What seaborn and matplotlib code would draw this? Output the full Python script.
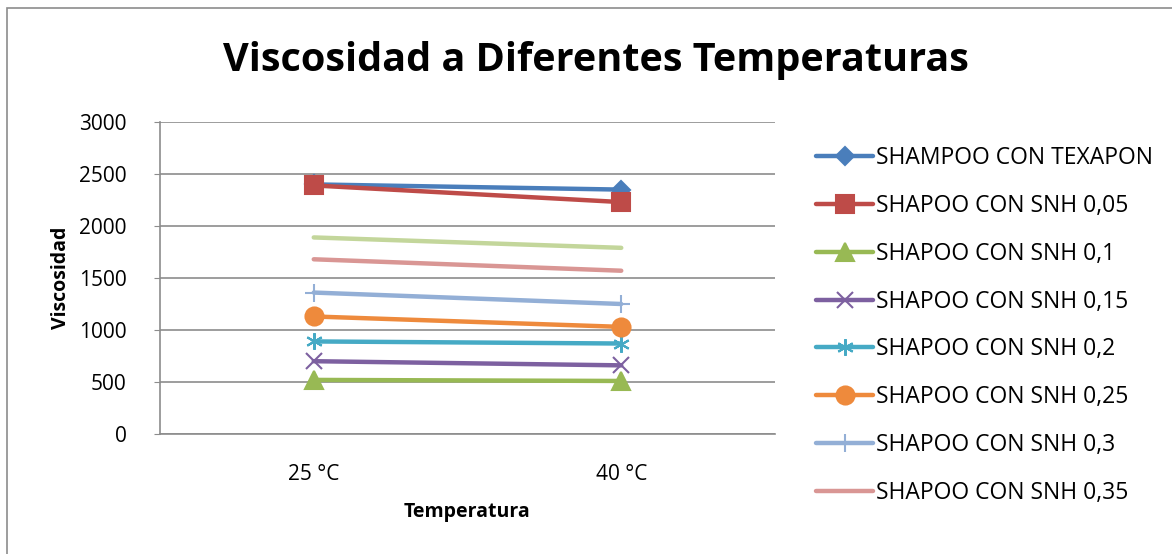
import numpy as np
import pandas as pd
import matplotlib
matplotlib.use('Agg')
import matplotlib.pyplot as plt
import seaborn as sns

# data
temperaturas = ['25 °C', '40 °C']
texapon = [2400, 2350]
snh_005 = [2390, 2230]
snh_01 = [520, 510]
snh_015 = [700, 660]
snh_02 = [890, 870]
snh_025 = [1130, 1030]
snh_03 = [1360, 1250]
snh_035 = [1680, 1570]
snh_04 = [1890, 1790]   # 9th series, its legend entry is cut off

nombres = ['SHAMPOO CON TEXAPON', 'SHAPOO CON SNH 0,05', 'SHAPOO CON SNH 0,1',
           'SHAPOO CON SNH 0,15', 'SHAPOO CON SNH 0,2', 'SHAPOO CON SNH 0,25',
           'SHAPOO CON SNH 0,3', 'SHAPOO CON SNH 0,35', 'SHAPOO CON SNH 0,4']
valores = [texapon, snh_005, snh_01, snh_015, snh_02, snh_025, snh_03, snh_035, snh_04]

colores = ['#4A7EBB', '#BE4B48', '#98B954', '#7D60A0', '#46AAC5',
           '#EE8A3C', '#93AFD6', '#D99694', '#C3D69B']
marcadores = ['D', 's', '^', 'x', (6, 2, 0), 'o', '+', None, None]
tamanos = [9, 13, 13, 11, 12, 13, 13, 0, 0]

sns.set_style('white')
plt.rcParams['font.family'] = ['Open Sans', 'DejaVu Sans']
plt.rcParams['text.color'] = 'black'
plt.rcParams['axes.labelcolor'] = 'black'
plt.rcParams['xtick.color'] = 'black'
plt.rcParams['ytick.color'] = 'black'

fig = plt.figure(figsize=(11.72, 5.54), dpi=100)
ax = fig.add_axes([160/1172, 1 - 434/554, 615/1172, 312/554])

for i in range(len(nombres)):
    df = pd.DataFrame({'Temperatura': temperaturas, 'Viscosidad': valores[i]})
    sns.lineplot(data=df, x='Temperatura', y='Viscosidad', ax=ax, color=colores[i],
                 linewidth=3.2, marker=marcadores[i], markersize=tamanos[i],
                 markeredgecolor=colores[i], markeredgewidth=1.5, sort=False,
                 label=nombres[i] if i < 8 else '_nolegend_')

ax.set_xlim(-0.5, 1.5)
ax.set_ylim(0, 3000)
ax.set_yticks(np.arange(0, 3001, 500))
ax.yaxis.grid(True, color='#8C8C8C', linewidth=1.2)
ax.set_axisbelow(True)
for s in ['top', 'right']:
    ax.spines[s].set_visible(False)
for s in ['left', 'bottom']:
    ax.spines[s].set_color('#8C8C8C')
    ax.spines[s].set_linewidth(1.2)
ax.tick_params(axis='y', which='major', left=True, length=4, color='#8C8C8C',
               labelsize=15, pad=20, labelcolor='black')
ax.tick_params(axis='x', bottom=False, labelsize=15, pad=18, labelcolor='black')
ax.set_xlabel('Temperatura', fontsize=14, fontweight='bold', labelpad=12, color='black')
ax.set_ylabel('Viscosidad', fontsize=14, fontweight='bold', labelpad=6, color='black')

fig.text(596/1172, 1 - 60/554, 'Viscosidad a Diferentes Temperaturas', fontsize=28.5,
         fontweight='bold', ha='center', va='center', color='black')

handles, labels = ax.get_legend_handles_labels()
ax.legend_.remove()
fig.legend(handles, labels, loc='upper left', bbox_to_anchor=(807/1172, 1 - 137/554),
           frameon=False, fontsize=16.5, labelspacing=1.04, handlelength=2.5,
           handletextpad=0.12, borderaxespad=0, labelcolor='black')

# chart-area frame, cut off on right and bottom like the picture
fig.add_artist(plt.Rectangle((7/1172, -0.1), 1.2, 1 - 8/554 + 0.1, transform=fig.transFigure,
                             fill=False, edgecolor='#8C8C8C', linewidth=1.2))

fig.savefig('out.png', dpi=100)
